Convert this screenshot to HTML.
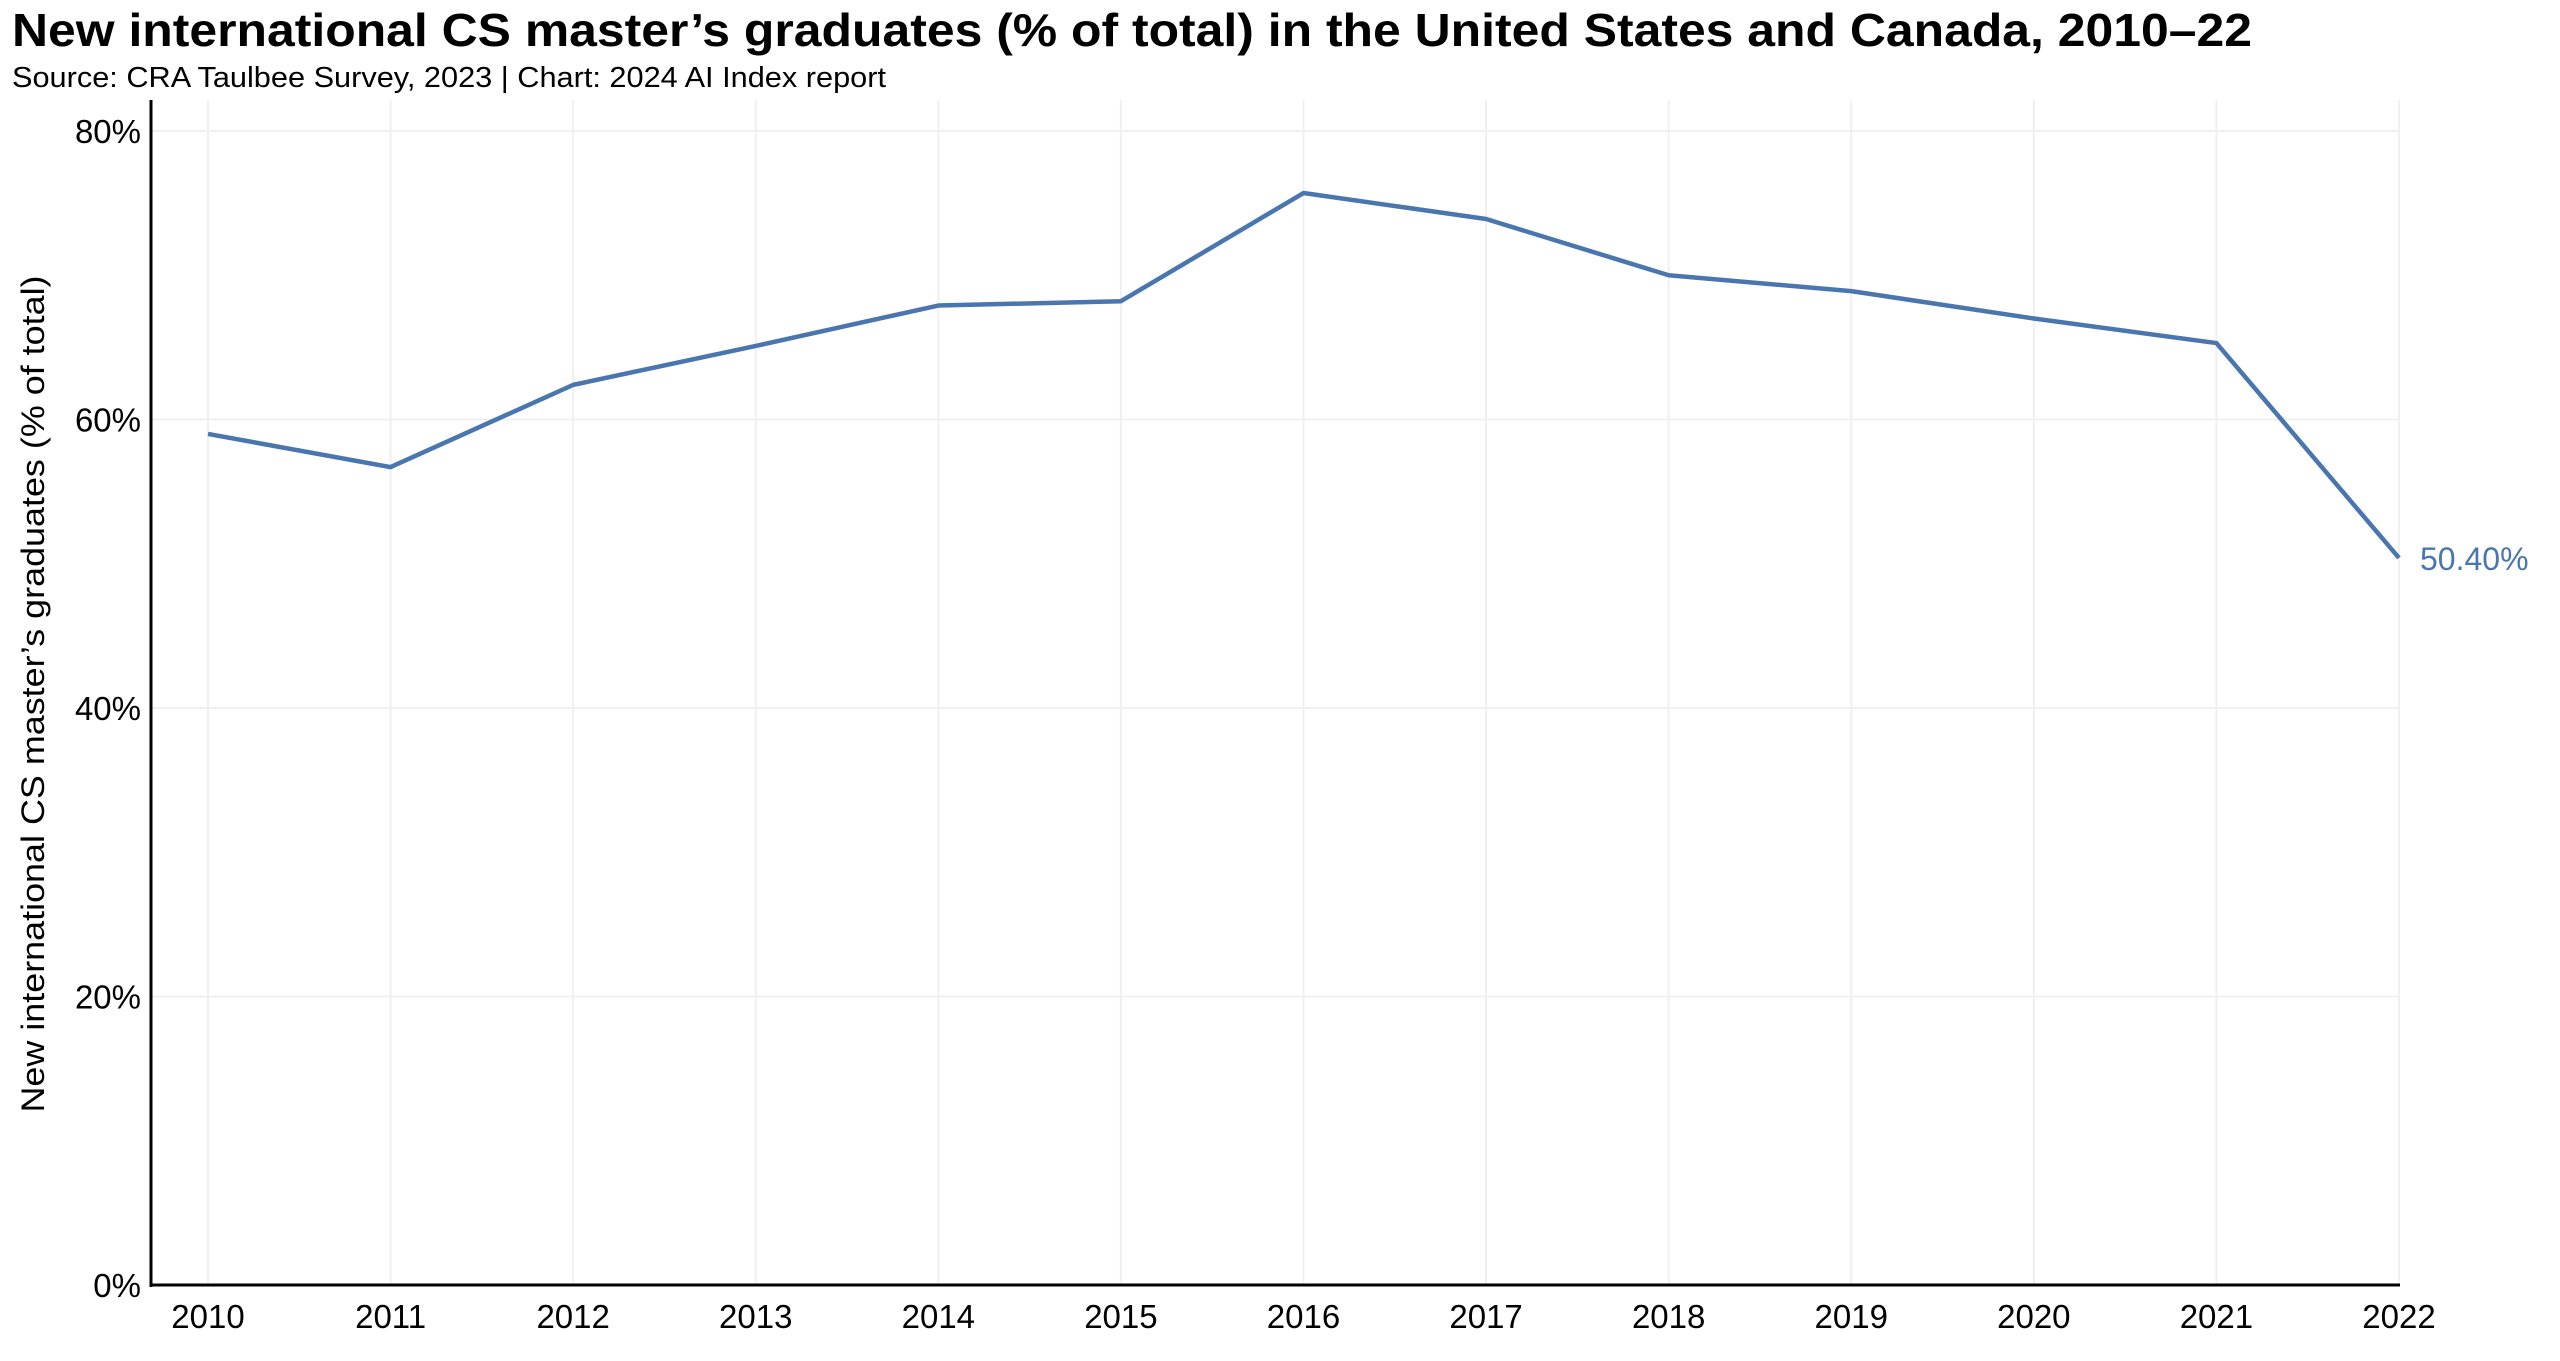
<!DOCTYPE html>
<html><head><meta charset="utf-8"><style>
body{margin:0;background:#fff;}
svg{display:block;font-family:"Liberation Sans",sans-serif;}
</style></head><body>
<svg id="chart" width="2560" height="1361" viewBox="0 0 2560 1361">
<text x="12" y="46" font-size="46" font-weight="bold" fill="#000" textLength="2240" lengthAdjust="spacingAndGlyphs">New international CS master’s graduates (% of total) in the United States and Canada, 2010–22</text>
<text x="12" y="87" font-size="29" fill="#000" textLength="874" lengthAdjust="spacingAndGlyphs">Source: CRA Taulbee Survey, 2023 | Chart: 2024 AI Index report</text>
<text transform="translate(44,694) rotate(-90)" text-anchor="middle" font-size="32" fill="#000" textLength="837" lengthAdjust="spacingAndGlyphs">New international CS master’s graduates (% of total)</text>
<g id="grid"></g><g id="axes"></g><g id="series"></g>
</svg>
<script>
const years = [2010,2011,2012,2013,2014,2015,2016,2017,2018,2019,2020,2021,2022];
const values = [59.0,56.7,62.4,65.1,67.9,68.2,75.7,73.9,70.0,68.9,67.0,65.3,50.4];
const yTicks = [0,20,40,60,80];
const yTickLabels = ["0%","20%","40%","60%","80%"];
const endLabel = "50.40%";

const NS="http://www.w3.org/2000/svg";
const X0=208, X1=2399, Y0=1285, Y80=131, LEFT=151, RIGHT=2400, TOP=100;
function xs(i){return X0+(X1-X0)*i/(years.length-1);}
function ys(v){return Y0-(Y0-Y80)*v/80;}
function mk(tag,attrs,parent){const e=document.createElementNS(NS,tag);for(const k in attrs)e.setAttribute(k,attrs[k]);parent.appendChild(e);return e;}
const grid=document.getElementById('grid'),axes=document.getElementById('axes'),series=document.getElementById('series');
years.forEach((yr,i)=>{
  const l=mk('line',{x1:xs(i),x2:xs(i),y1:TOP,y2:Y0,stroke:'#f0f0f0','stroke-width':2},grid);
  
  
  const t=mk('text',{x:xs(i),y:1328,'text-anchor':'middle','font-size':33,fill:'#000'},axes);
  t.textContent=yr;
  
  
});
yTicks.forEach((v,i)=>{
  const l=mk('line',{x1:LEFT,x2:RIGHT,y1:ys(v),y2:ys(v),stroke:'#f0f0f0','stroke-width':2},grid);
  
  
  const t=mk('text',{x:141,y:ys(v)+12,'text-anchor':'end','font-size':33,fill:'#000'},axes);
  t.textContent=yTickLabels[i];
  
  
});
const ya=mk('line',{x1:LEFT,x2:LEFT,y1:TOP,y2:Y0+2,stroke:'#000','stroke-width':3},axes);


const xa=mk('line',{x1:LEFT-1,x2:RIGHT,y1:Y0,y2:Y0,stroke:'#000','stroke-width':3},axes);


const pts=values.map((v,i)=>xs(i)+','+ys(v)).join(' ');
const pl=mk('polyline',{points:pts,fill:'none',stroke:'#4a76b0','stroke-width':4.5,'stroke-linejoin':'round'},series);


const last=values.length-1;
const lbl=mk('text',{x:xs(last)+21,y:ys(values[last])+12,'font-size':32,fill:'#4a76b0'},series);
lbl.textContent=endLabel;


</script>
</body></html>
